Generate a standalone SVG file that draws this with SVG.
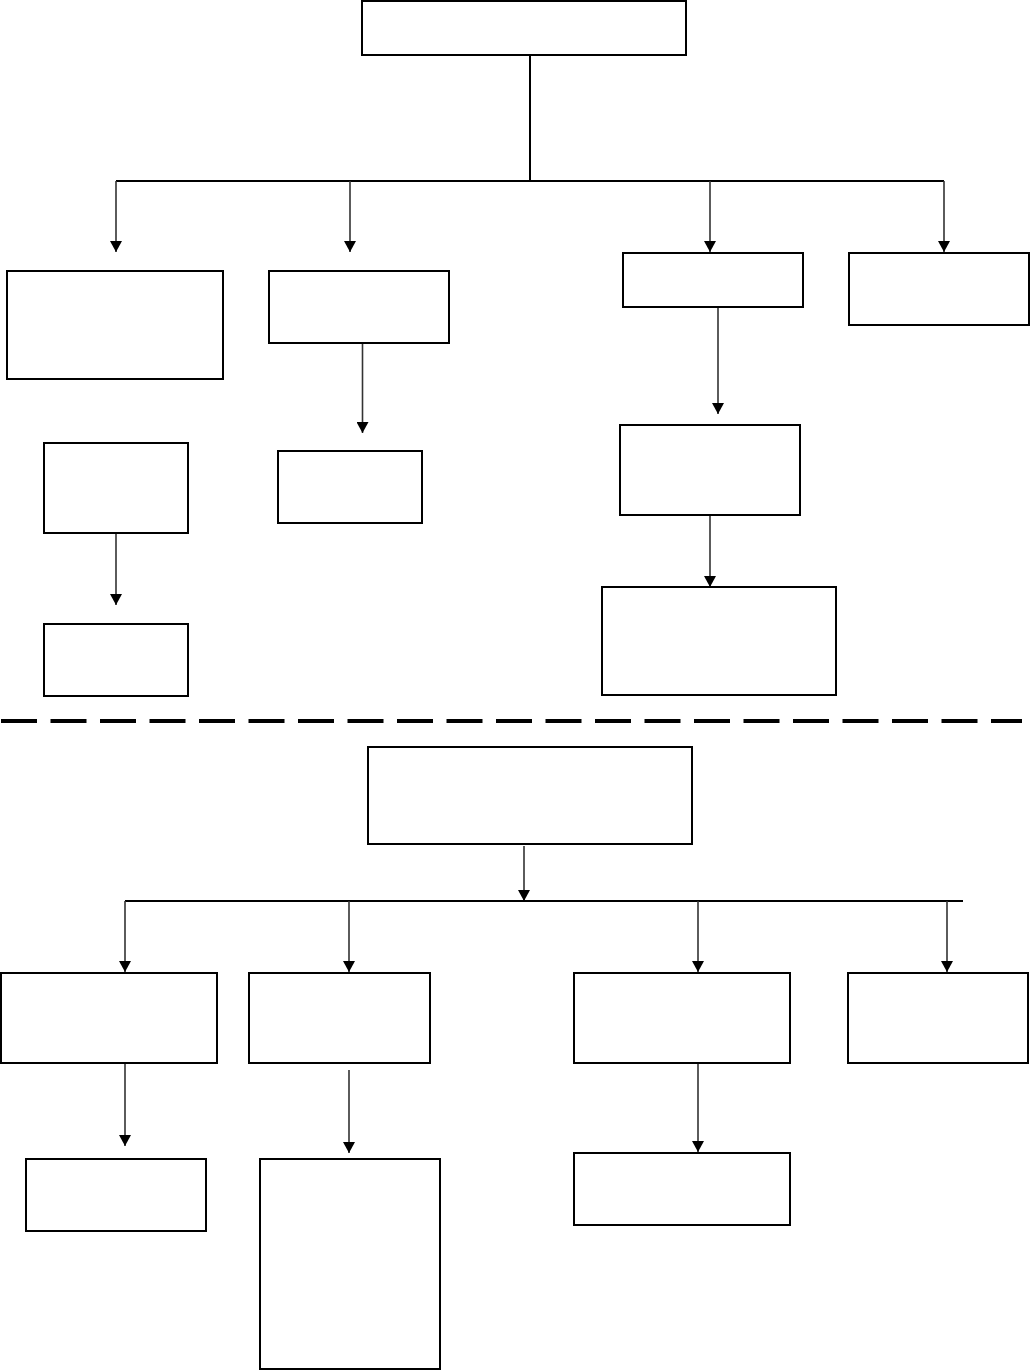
<svg xmlns="http://www.w3.org/2000/svg" width="1030" height="1370" viewBox="0 0 1030 1370">
<style>
.box{fill:#fff;stroke:#000;stroke-width:2}
.ln{fill:none;stroke:#000;stroke-width:2}
.ar{fill:none;stroke:#333;stroke-width:1.6;marker-end:url(#ah)}
.dash{fill:none;stroke:#000;stroke-width:4;stroke-dasharray:36 13.5}
</style>
<defs>
<marker id="ah" markerUnits="userSpaceOnUse" markerWidth="12" markerHeight="12" refX="11" refY="6" orient="auto">
<path d="M0,0 L11,6 L0,12 z" fill="#000"/>
</marker>
</defs>
<rect width="1030" height="1370" fill="#fff"/>
<g id="connectors">
<path class="ln" d="M530,55 V181 M116,181 H944"/>
<path class="ar" d="M116,181 V252"/>
<path class="ar" d="M350,181 V252"/>
<path class="ar" d="M710,181 V252"/>
<path class="ar" d="M944,181 V252"/>
<path class="ar" d="M362.5,343 V433"/>
<path class="ar" d="M718,307 V414"/>
<path class="ar" d="M116,533 V605"/>
<path class="ar" d="M710,515 V587"/>
<path class="dash" d="M1,721 H1022"/>
<path class="ar" d="M524,846 V901"/>
<path class="ln" d="M125,901 H963"/>
<path class="ar" d="M125,901 V972"/>
<path class="ar" d="M349,901 V972"/>
<path class="ar" d="M698,901 V972"/>
<path class="ar" d="M947,901 V972"/>
<path class="ar" d="M125,1063 V1146"/>
<path class="ar" d="M349,1070 V1153"/>
<path class="ar" d="M698,1063 V1152"/>
</g>
<g id="n-top"><rect class="box" x="362" y="1" width="324" height="54"/></g>
<g id="n-a"><rect class="box" x="7" y="271" width="216" height="108"/></g>
<g id="n-b"><rect class="box" x="269" y="271" width="180" height="72"/></g>
<g id="n-c"><rect class="box" x="623" y="253" width="180" height="54"/></g>
<g id="n-d"><rect class="box" x="849" y="253" width="180" height="72"/></g>
<g id="n-e"><rect class="box" x="278" y="451" width="144" height="72"/></g>
<g id="n-f"><rect class="box" x="620" y="425" width="180" height="90"/></g>
<g id="n-g"><rect class="box" x="44" y="443" width="144" height="90"/></g>
<g id="n-h"><rect class="box" x="44" y="624" width="144" height="72"/></g>
<g id="n-i"><rect class="box" x="602" y="587" width="234" height="108"/></g>
<g id="n-j"><rect class="box" x="368" y="747" width="324" height="97"/></g>
<g id="n-k"><rect class="box" x="1" y="973" width="216" height="90"/></g>
<g id="n-l"><rect class="box" x="249" y="973" width="181" height="90"/></g>
<g id="n-m"><rect class="box" x="574" y="973" width="216" height="90"/></g>
<g id="n-n"><rect class="box" x="848" y="973" width="180" height="90"/></g>
<g id="n-o"><rect class="box" x="26" y="1159" width="180" height="72"/></g>
<g id="n-p"><rect class="box" x="260" y="1159" width="180" height="210"/></g>
<g id="n-q"><rect class="box" x="574" y="1153" width="216" height="72"/></g>
</svg>
